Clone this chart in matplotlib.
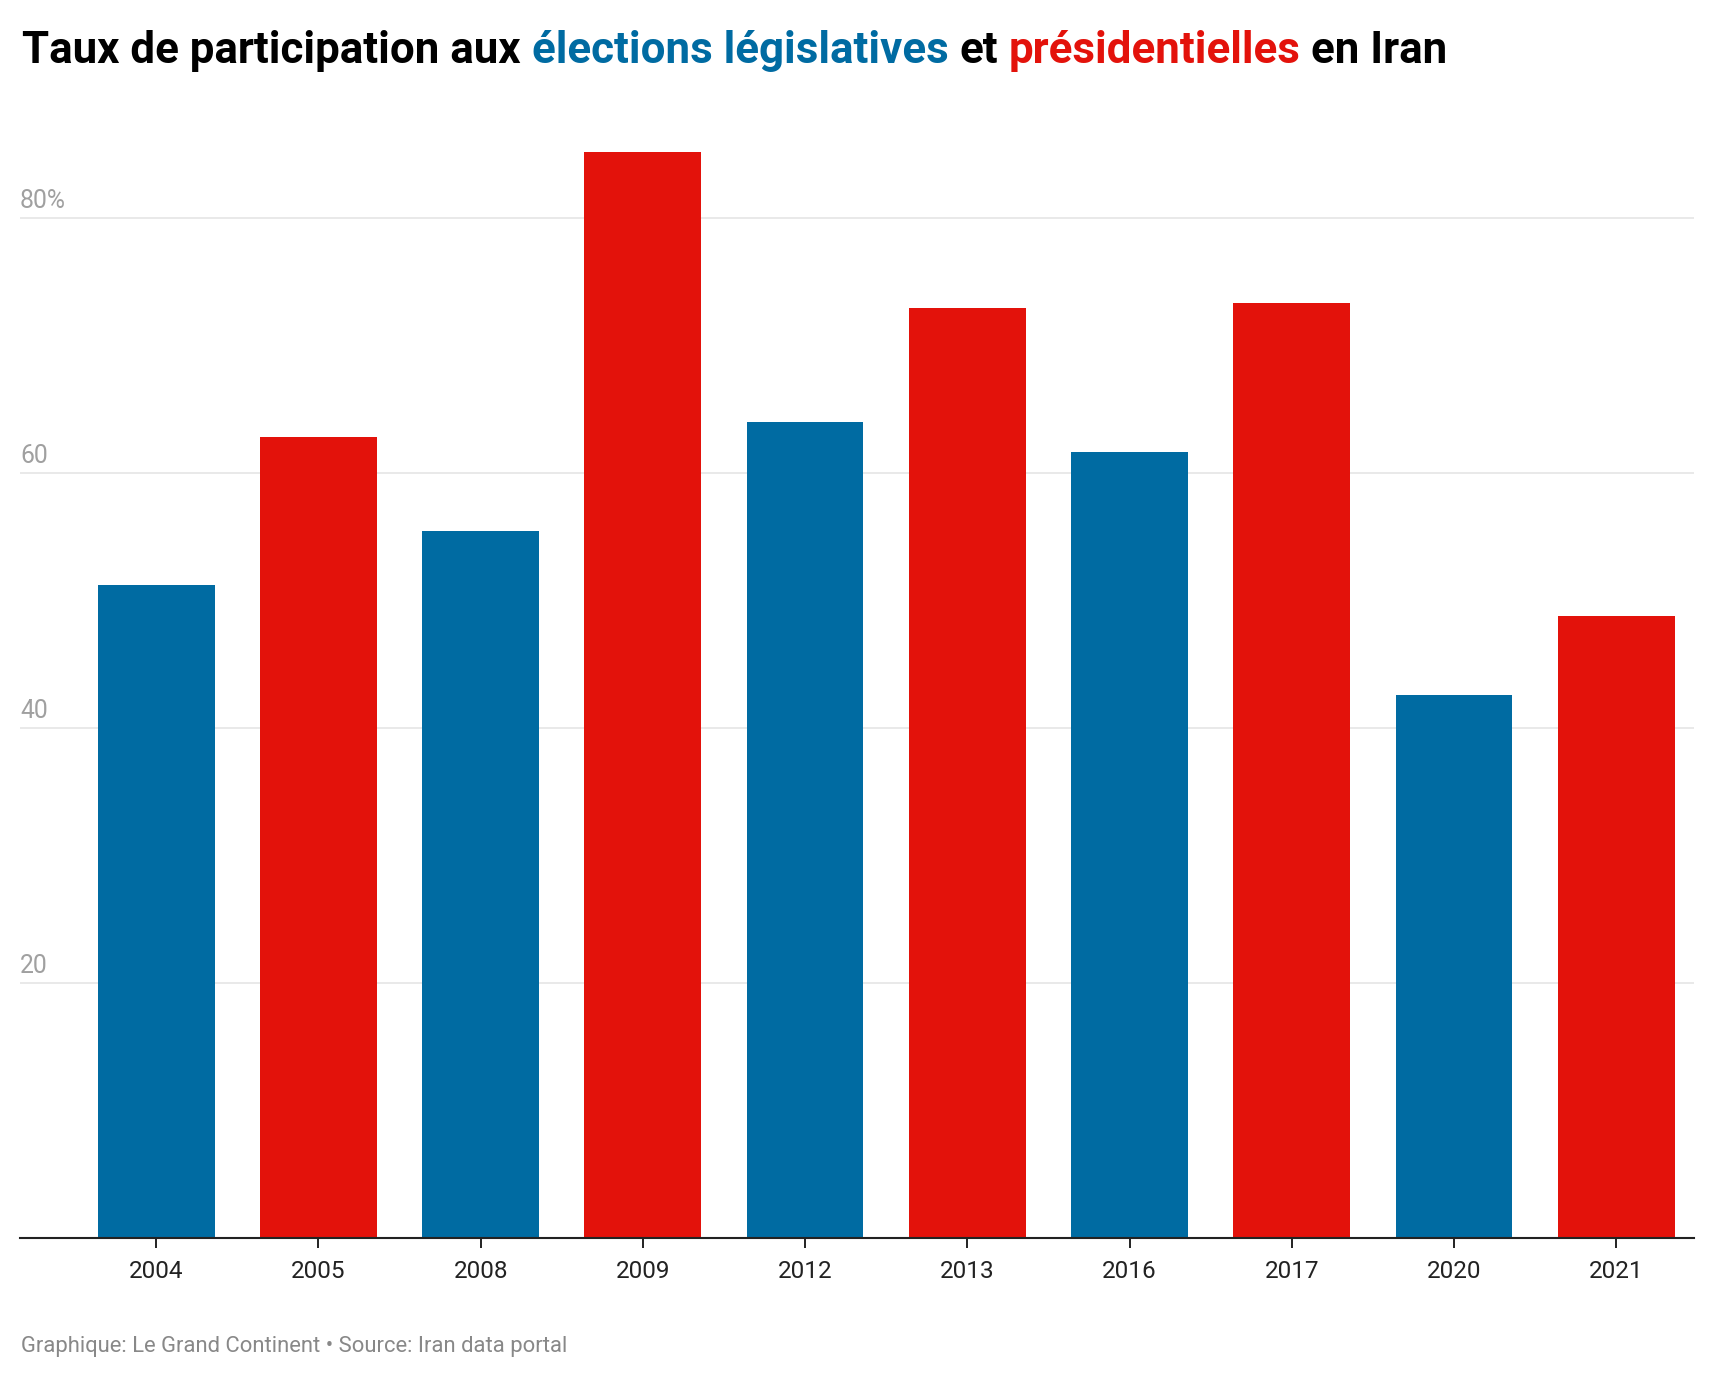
import matplotlib
matplotlib.use("Agg")
import matplotlib.pyplot as plt
from matplotlib import transforms

years = ["2004", "2005", "2008", "2009", "2012", "2013", "2016", "2017", "2020", "2021"]
turnout = [51.2, 62.8, 55.4, 85.2, 64.0, 72.9, 61.6, 73.3, 42.6, 48.8]
kind = ["leg", "pres", "leg", "pres", "leg", "pres", "leg", "pres", "leg", "pres"]
ytick_vals = [20, 40, 60, 80]
ytick_labels = ["20", "40", "60", "80%"]

BLUE = "#006BA2"
RED = "#E3120B"
colors = [BLUE if k == "leg" else RED for k in kind]

plt.rcParams["font.family"] = ["Roboto", "DejaVu Sans"]

W, H = 1716, 1378
fig = plt.figure(figsize=(W / 100, H / 100), dpi=100)
fig.patch.set_facecolor("white")

left_px, right_px = 20, 1694
base_px, top_px = 1237.8, 115.8
ax = fig.add_axes([left_px / W, (H - base_px) / H, (right_px - left_px) / W, (base_px - top_px) / H])

x = list(range(len(years)))
ax.bar(x, turnout, width=0.72, color=colors, zorder=2)
ax.set_xlim(-0.84, 9.48)
ax.set_ylim(0, 88)

ax.set_yticks(ytick_vals)
ax.yaxis.grid(True, color="#e3e3e3", linewidth=1.1, zorder=0)
ax.tick_params(axis="y", left=False, labelleft=False)
ax.set_xticks(x)
ax.set_xticklabels(years, fontsize=17.5, color="#222222")
ax.tick_params(axis="x", length=7, width=1.4, color="#222222", pad=9)
for s in ["top", "right", "left"]:
    ax.spines[s].set_visible(False)
ax.spines["bottom"].set_color("#222222")
ax.spines["bottom"].set_linewidth(1.5)
ax.set_axisbelow(True)

trans = transforms.blended_transform_factory(ax.transAxes, ax.transData)
off = transforms.offset_copy(trans, fig=fig, x=0, y=10, units="dots")
for v, lab in zip(ytick_vals, ytick_labels):
    ax.text(0, v, lab, transform=off, ha="left", va="baseline",
            fontsize=17.8, color="#a0a0a0")

# Multi-colored title
title_parts = [("Taux de participation aux", "black"),
               ("élections législatives", BLUE),
               ("et", "black"),
               ("présidentielles", RED),
               ("en Iran", "black")]
fig.canvas.draw()
renderer = fig.canvas.get_renderer()
fs_title = 31.6
tprops = dict(fontsize=fs_title, fontweight="bold", va="baseline", ha="left")
t1 = fig.text(0, 0, "xx", **tprops)
t2 = fig.text(0, 0, "x x", **tprops)
space_w = t2.get_window_extent(renderer).width - t1.get_window_extent(renderer).width
t1.remove(); t2.remove()
xpos = 22
ybase = H - 63
for txt, col in title_parts:
    t = fig.text(xpos / W, ybase / H, txt, color=col, **tprops)
    bb = t.get_window_extent(renderer)
    xpos += bb.width + space_w

fig.text(21 / W, (H - 1352) / H, "Graphique: Le Grand Continent • Source: Iran data portal",
         fontsize=15.8, color="#888888", ha="left", va="baseline")

fig.savefig("out.png", dpi=100, facecolor="white")
